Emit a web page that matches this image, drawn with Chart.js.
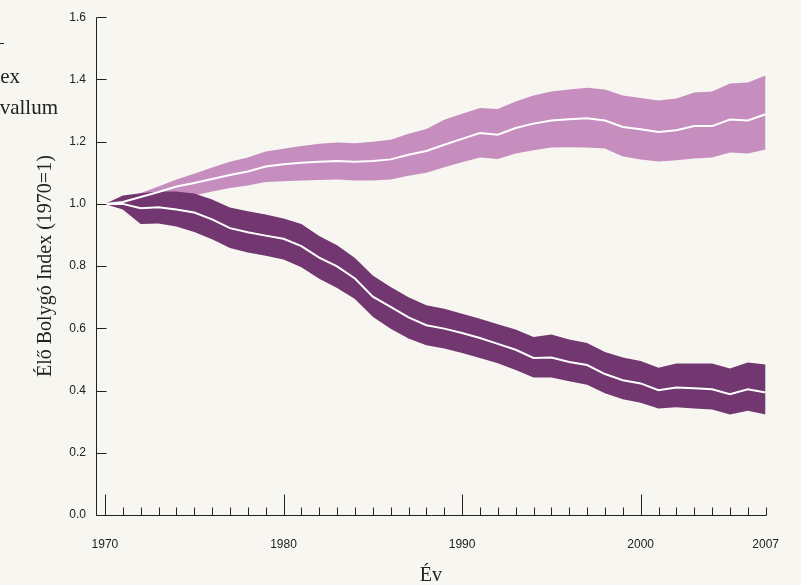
<!DOCTYPE html>
<html>
<head>
<meta charset="utf-8">
<script src="https://cdn.jsdelivr.net/npm/chart.js@4.4.1/dist/chart.umd.min.js"></script>
<style>
  html, body { margin: 0; padding: 0; background: #F7F6F0; }
  #wrap { width: 801px; height: 585px; position: relative; }
</style>
</head>
<body>
<div id="wrap"><canvas id="c" width="801" height="585"></canvas></div>
<script>
const years = [1970,1971,1972,1973,1974,1975,1976,1977,1978,1979,1980,1981,1982,1983,1984,1985,1986,1987,1988,1989,1990,1991,1992,1993,1994,1995,1996,1997,1998,1999,2000,2001,2002,2003,2004,2005,2006,2007];

const temperateMid = [1.000,1.006,1.022,1.038,1.056,1.067,1.080,1.093,1.104,1.120,1.127,1.132,1.135,1.138,1.135,1.138,1.143,1.158,1.170,1.190,1.209,1.228,1.222,1.244,1.258,1.268,1.272,1.275,1.268,1.247,1.240,1.231,1.237,1.250,1.250,1.271,1.268,1.288];
const temperateUpper = [1.000,1.015,1.035,1.056,1.078,1.097,1.117,1.135,1.149,1.168,1.177,1.186,1.193,1.197,1.195,1.200,1.206,1.225,1.241,1.270,1.290,1.308,1.305,1.329,1.348,1.361,1.368,1.373,1.368,1.348,1.340,1.332,1.339,1.358,1.361,1.387,1.390,1.413];
const temperateLower = [1.000,0.998,1.005,1.012,1.020,1.027,1.040,1.051,1.059,1.070,1.073,1.075,1.077,1.078,1.075,1.075,1.078,1.090,1.100,1.118,1.134,1.149,1.144,1.162,1.172,1.181,1.182,1.181,1.178,1.152,1.143,1.136,1.140,1.146,1.149,1.165,1.162,1.175];

const tropicalMid = [1.000,1.000,0.986,0.989,0.982,0.972,0.950,0.922,0.909,0.898,0.888,0.864,0.827,0.799,0.760,0.702,0.669,0.635,0.610,0.599,0.585,0.569,0.550,0.531,0.505,0.506,0.492,0.482,0.453,0.433,0.423,0.401,0.410,0.407,0.404,0.388,0.404,0.394];
const tropicalUpper = [1.000,1.027,1.034,1.040,1.040,1.033,1.014,0.988,0.976,0.966,0.953,0.935,0.897,0.867,0.826,0.770,0.733,0.700,0.674,0.663,0.647,0.631,0.613,0.596,0.572,0.580,0.564,0.553,0.524,0.506,0.495,0.473,0.487,0.487,0.487,0.471,0.490,0.484];
const tropicalLower = [1.000,0.982,0.935,0.937,0.927,0.910,0.886,0.858,0.844,0.833,0.821,0.796,0.759,0.730,0.694,0.637,0.599,0.567,0.546,0.535,0.521,0.505,0.488,0.466,0.442,0.442,0.430,0.419,0.391,0.372,0.361,0.342,0.346,0.342,0.339,0.323,0.335,0.323];

const xTickLabels = [1970, 1980, 1990, 2000, 2007];
const majorYears = [1970, 1980, 1990, 2000];
const yTicks = [0, 0.2, 0.4, 0.6, 0.8, 1.0, 1.2, 1.4, 1.6];

const legendLabels = ['Élő Bolygó Index', 'Konfidencia intervallum'];

const LIGHT = '#C68DBF';
const DARK = '#723670';
const BG = '#F7F6F0';
const INK = '#222222';

const pts = arr => years.map((y, i) => ({ x: y, y: arr[i] }));

const bgPlugin = {
  id: 'bg',
  beforeDraw(chart) {
    const ctx = chart.ctx;
    ctx.save();
    ctx.fillStyle = BG;
    ctx.fillRect(0, 0, chart.width, chart.height);
    ctx.restore();
  }
};

const axesPlugin = {
  id: 'axesInner',
  afterDraw(chart) {
    const ctx = chart.ctx;
    const xs = chart.scales.x, ys = chart.scales.y;
    const a = chart.chartArea;
    const L = Math.round(a.left) + 0.5;
    const B = Math.round(ys.getPixelForValue(0)) + 0.5;
    const T = Math.round(ys.getPixelForValue(1.6)) + 0.5;
    const R = Math.round(xs.getPixelForValue(2007)) + 0.5;
    ctx.save();
    ctx.strokeStyle = INK;
    ctx.lineWidth = 1;
    ctx.beginPath();
    ctx.moveTo(L, T); ctx.lineTo(L, B);
    ctx.moveTo(L, B); ctx.lineTo(R, B);
    yTicks.forEach(v => {
      const py = Math.round(ys.getPixelForValue(v)) + 0.5;
      ctx.moveTo(L, py); ctx.lineTo(L + 10, py);
    });
    years.forEach(yr => {
      const px = Math.round(xs.getPixelForValue(yr)) + 0.5;
      const len = majorYears.includes(yr) ? 21 : 8;
      ctx.moveTo(px, B); ctx.lineTo(px, B - len);
    });
    ctx.stroke();

    // legend text (cut at the left edge as in the source)
    ctx.fillStyle = INK;
    ctx.font = '21px "Liberation Serif"';
    ctx.textAlign = 'right';
    ctx.textBaseline = 'alphabetic';
    ctx.fillText(legendLabels[0], 20, 83);
    ctx.fillText(legendLabels[1], 58, 114);
    ctx.beginPath();
    ctx.moveTo(0, 43.5); ctx.lineTo(4, 43.5);
    ctx.stroke();
    ctx.restore();
  }
};

new Chart(document.getElementById('c'), {
  type: 'line',
  data: {
    datasets: [
      { label: 'temperateLower', data: pts(temperateLower), borderWidth: 0, pointRadius: 0, fill: false, order: 10, tension: 0 },
      { label: 'temperateUpper', data: pts(temperateUpper), borderWidth: 0, pointRadius: 0, fill: { target: 0 }, backgroundColor: LIGHT, order: 9, tension: 0 },
      { label: 'tropicalLower', data: pts(tropicalLower), borderWidth: 0, pointRadius: 0, fill: false, order: 8, tension: 0 },
      { label: 'tropicalUpper', data: pts(tropicalUpper), borderWidth: 0, pointRadius: 0, fill: { target: 2 }, backgroundColor: DARK, order: 7, tension: 0 },
      { label: 'temperateMid', data: pts(temperateMid), borderColor: '#FFFFFF', borderWidth: 2, pointRadius: 0, fill: false, order: 2, tension: 0 },
      { label: 'tropicalMid', data: pts(tropicalMid), borderColor: '#FFFFFF', borderWidth: 2, pointRadius: 0, fill: false, order: 1, tension: 0 }
    ]
  },
  options: {
    responsive: false,
    animation: false,
    layout: { padding: { left: 17, right: 34, top: 17, bottom: 0 } },
    plugins: { legend: { display: false }, tooltip: { enabled: false } },
    scales: {
      x: {
        type: 'linear',
        min: 1969.5,
        max: 2007,
        afterBuildTicks(scale) { scale.ticks = xTickLabels.map(v => ({ value: v })); },
        afterFit(scale) { scale.height = 70; },
        grid: { display: false, drawTicks: false },
        border: { display: false },
        ticks: {
          padding: 22,
          maxRotation: 0,
          autoSkip: false,
          color: INK,
          font: { family: '"Liberation Sans", Arial, sans-serif', size: 12 },
          callback: v => String(v)
        },
        title: {
          display: true,
          text: 'Év',
          color: INK,
          font: { family: '"Liberation Serif", serif', size: 20 },
          padding: { top: 0, bottom: -3 }
        }
      },
      y: {
        min: 0,
        max: 1.6,
        afterBuildTicks(scale) { scale.ticks = yTicks.map(v => ({ value: v })); },
        afterFit(scale) { scale.width = 79; },
        grid: { display: false, drawTicks: false },
        border: { display: false },
        ticks: {
          padding: 10,
          color: INK,
          font: { family: '"Liberation Sans", Arial, sans-serif', size: 12 },
          callback: v => v.toFixed(1)
        },
        title: {
          display: true,
          text: 'Élő Bolygó Index (1970=1)',
          color: INK,
          font: { family: '"Liberation Serif", serif', size: 20 },
          padding: { top: 17, bottom: 0 }
        }
      }
    }
  },
  plugins: [bgPlugin, axesPlugin]
});
</script>
</body>
</html>
